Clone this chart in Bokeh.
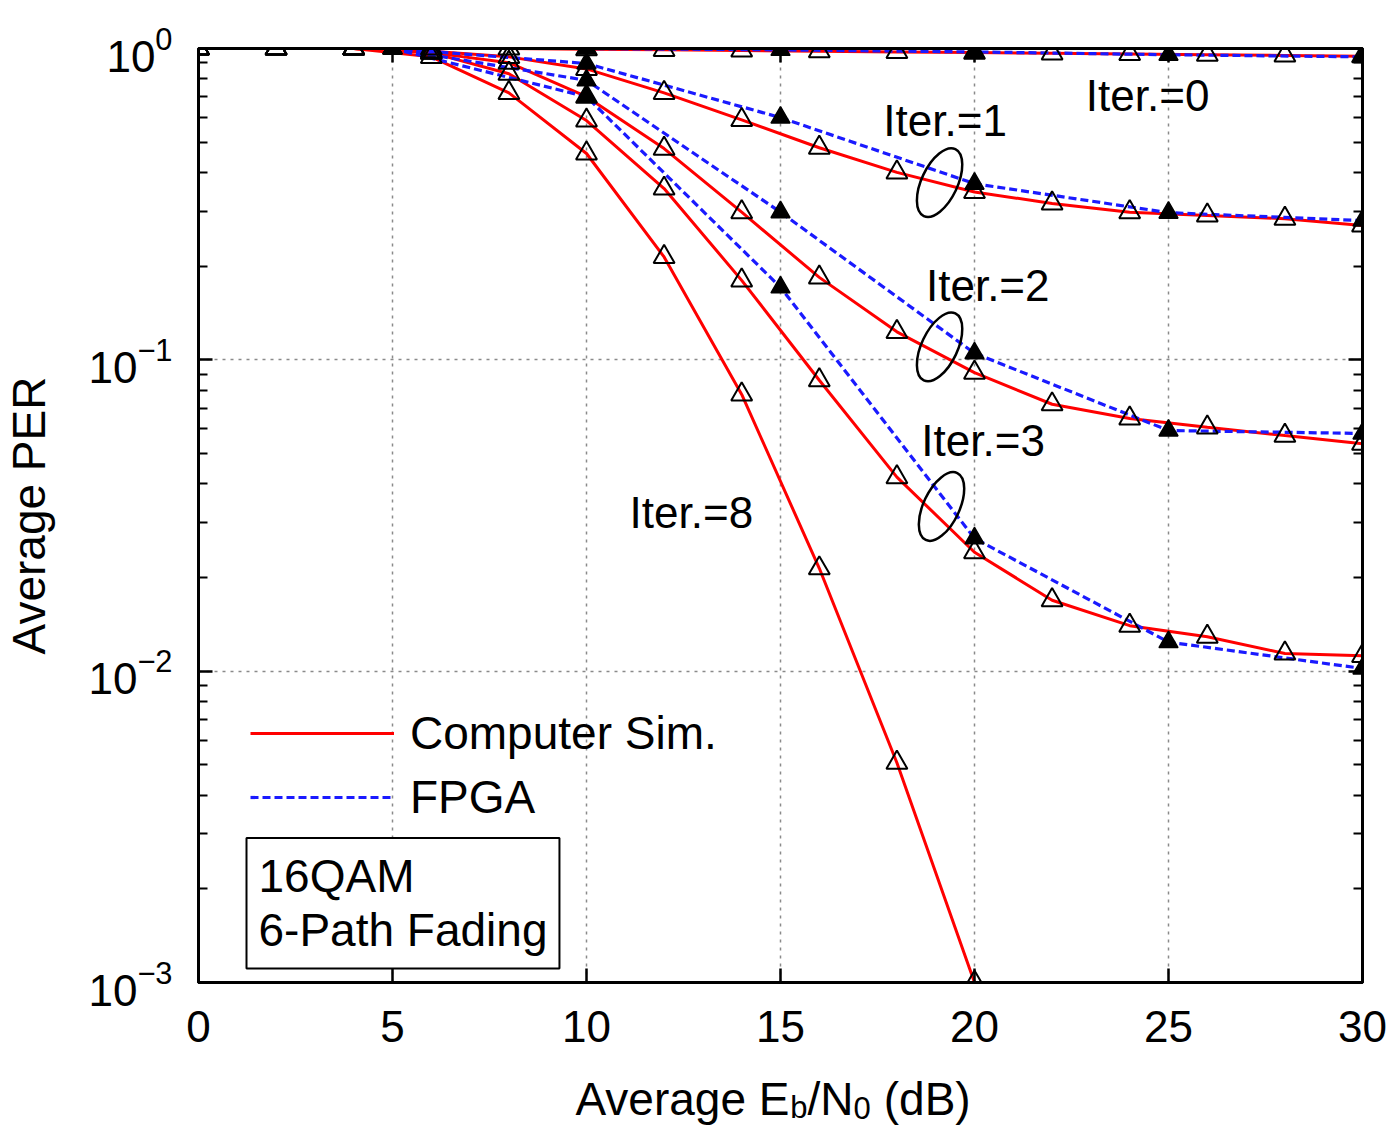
from bokeh.plotting import figure
from bokeh.layouts import column
from bokeh.models import (Legend, LegendItem, Label, LinearAxis, LogAxis,
                          FixedTicker, Range1d, LogTickFormatter, CustomJSTickFormatter)
from bokeh.embed import file_html
from bokeh.resources import INLINE
from bokeh.core.properties import value

FONT = "Liberation Sans"

# ---------------- data ----------------
x_sim = [0, 2, 4, 6, 8, 10, 12, 14, 16, 18, 20, 22, 24, 26, 28, 30]
iter0_sim = [1.0, 1.0, 1.0, 1.0, 1.0, 0.995, 0.99, 0.985, 0.98, 0.975, 0.97, 0.965, 0.96, 0.955, 0.95, 0.945]
iter1_sim = [1.0, 1.0, 1.0, 0.98, 0.94, 0.86, 0.72, 0.59, 0.48, 0.40, 0.346, 0.318, 0.298, 0.291, 0.284, 0.27]
iter2_sim = [1.0, 1.0, 1.0, 0.97, 0.90, 0.70, 0.477, 0.298, 0.184, 0.123, 0.091, 0.072, 0.0648, 0.0607, 0.0571, 0.0538]
iter3_sim = [1.0, 1.0, 1.0, 0.97, 0.83, 0.587, 0.355, 0.18, 0.086, 0.042, 0.0241, 0.0169, 0.014, 0.0129, 0.0114, 0.0112]
x_sim8 = [0, 2, 4, 6, 8, 10, 12, 14, 16, 18, 20]
iter8_sim = [1.0, 1.0, 1.0, 0.94, 0.72, 0.46, 0.214, 0.0774, 0.0214, 0.00508, 0.001]

x_fpga = [5, 10, 15, 20, 25, 30]
iter0_fpga = [1.0, 1.0, 0.99, 0.975, 0.955, 0.94]
iter1_fpga = [1.0, 0.895, 0.60, 0.368, 0.297, 0.28]
iter2_fpga = [1.0, 0.79, 0.298, 0.105, 0.0593, 0.058]
iter3_fpga = [1.0, 0.70, 0.171, 0.0267, 0.0124, 0.0102]

x_ticks = [0, 5, 10, 15, 20, 25, 30]
y_ticks = [0.001, 0.01, 0.1, 1]

note_text = ["Iter.=0", "Iter.=1", "Iter.=2", "Iter.=3", "Iter.=8"]
note_x = [22.87, 17.65, 18.75, 18.63, 11.11]
note_y = [0.706, 0.587, 0.173, 0.055, 0.0323]

ring_x = [19.1, 19.1, 19.15]
ring_y = [0.371, 0.110, 0.0338]

legend_labels = ["Computer Sim.", "FPGA"]
box_text = "16QAM\n6-Path Fading"
y_title = "Average PER"
# x title pieces: (text, font px, baseline shift, leading gap px) -> "Average E_b/N_0 (dB)"
x_title_pieces = [("Average E", 46, 0, 0), ("b", 31, -9, 0), ("/N", 46, 0, 0),
                  ("0", 31, -9, 0), ("(dB)", 46, 0, 13)]

# ---------------- main figure ----------------
p = figure(width=1397, height=1068, y_axis_type="log",
           x_range=Range1d(0, 30), y_range=Range1d(1e-3, 1),
           output_backend="svg", toolbar_location=None,
           min_border_left=196, min_border_right=35,
           min_border_top=48, min_border_bottom=86)
p.background_fill_color = "white"
p.border_fill_color = "white"
p.outline_line_color = "black"
p.outline_line_width = 3

minor = [m * 10.0 ** e for e in (-3, -2, -1) for m in range(2, 10)]
yt = FixedTicker(ticks=y_ticks, minor_ticks=minor)
xt = FixedTicker(ticks=x_ticks)

p.xaxis.ticker = xt
p.yaxis.ticker = yt
p.yaxis.formatter = LogTickFormatter()

for ax in (p.xaxis[0], p.yaxis[0]):
    ax.axis_line_width = 3
    ax.major_tick_in = 14
    ax.major_tick_out = 0
    ax.major_tick_line_width = 2.5
    ax.minor_tick_in = 9
    ax.minor_tick_out = 0
    ax.minor_tick_line_width = 2
    ax.major_label_text_font = FONT
    ax.major_label_text_font_size = "44px"
    ax.major_label_text_color = "black"

p.xaxis.major_label_standoff = 28
p.yaxis.major_label_standoff = 26
p.yaxis.axis_label = y_title
p.yaxis.axis_label_text_font = FONT
p.yaxis.axis_label_text_font_size = "46px"
p.yaxis.axis_label_text_font_style = "normal"
p.yaxis.axis_label_text_color = "black"
p.yaxis.axis_label_standoff = 30

top = LinearAxis(ticker=xt, formatter=CustomJSTickFormatter(code="return ''"),
                 major_label_standoff=0,
                 axis_line_width=3, major_tick_in=14, major_tick_out=0,
                 major_tick_line_width=2.5)
right = LogAxis(ticker=yt, formatter=CustomJSTickFormatter(code="return ''"),
                major_label_standoff=0,
                axis_line_width=3, major_tick_in=14, major_tick_out=0,
                major_tick_line_width=2.5, minor_tick_in=9, minor_tick_out=0,
                minor_tick_line_width=2)
p.add_layout(top, "above")
p.add_layout(right, "right")

for g in (p.xgrid[0], p.ygrid[0]):
    g.grid_line_color = "#8a8a8a"
    g.grid_line_dash = "3 5"
    g.grid_line_width = 1.5

# ---------------- lines ----------------
red = "#ff0000"
blue = "#1a1aff"
sims = [(x_sim, iter0_sim), (x_sim, iter1_sim), (x_sim, iter2_sim),
        (x_sim, iter3_sim), (x_sim8, iter8_sim)]
fpgas = [iter0_fpga, iter1_fpga, iter2_fpga, iter3_fpga]

sim_renderers = []
for xs, ys in sims:
    sim_renderers.append(p.line(xs, ys, line_color=red, line_width=3))
fpga_renderers = []
for ys in fpgas:
    fpga_renderers.append(p.line(x_fpga, ys, line_color=blue, line_width=3.2,
                                 line_dash="8 4"))

for xs, ys in sims:
    p.scatter(xs, ys, marker="triangle", size=21, line_color="black",
              line_width=2, fill_alpha=0)
for ys in fpgas:
    p.scatter(x_fpga, ys, marker="triangle", size=19, line_color="black",
              fill_color="black", line_width=1.5)

# ---------------- annotations ----------------
p.text(x=note_x, y=note_y, text=note_text, text_font=value(FONT),
       text_font_size="44px", text_baseline="middle", text_align="left",
       text_color="black")
p.ellipse(x=ring_x, y=ring_y, width=74, height=36, angle=1.13,
          width_units="screen", height_units="screen",
          fill_alpha=0, line_color="black", line_width=2.5)

legend = Legend(items=[LegendItem(label=legend_labels[0], renderers=[sim_renderers[0]]),
                       LegendItem(label=legend_labels[1], renderers=[fpga_renderers[0]])],
                location=(52, 158), glyph_width=144, glyph_height=54,
                label_height=54, spacing=10, padding=0, margin=0,
                label_standoff=16, label_text_font=FONT,
                label_text_font_size="46px", label_text_color="black",
                border_line_alpha=0, background_fill_alpha=0)
p.add_layout(legend)

box = Label(x=48, y=14, x_units="screen", y_units="screen", text=box_text,
            text_font=FONT, text_font_size="46px", text_color="black",
            text_line_height=1.05,
            border_line_color="black", border_line_width=2,
            background_fill_color="white", padding=12)
p.add_layout(box)

# ---------------- x-axis title strip ----------------
p2 = figure(width=1397, height=60, x_range=Range1d(0, 1), y_range=Range1d(0, 1),
            output_backend="svg", toolbar_location=None,
            x_axis_location=None, y_axis_location=None,
            min_border_left=196, min_border_right=35,
            min_border_top=0, min_border_bottom=0)
p2.outline_line_color = None
p2.background_fill_color = "white"
p2.border_fill_color = "white"
p2.xgrid.visible = False
p2.ygrid.visible = False

widths = {"A": 667, "v": 500, "e": 556, "r": 333, "a": 556, "g": 556, " ": 278,
          "E": 667, "b": 556, "/": 278, "N": 722, "0": 556, "(": 333, "d": 556,
          "B": 667, ")": 333}
cx = 377
for txt, fs, dy, gap in x_title_pieces:
    cx += gap
    p2.add_layout(Label(x=cx, y=30 + dy, x_units="screen", y_units="screen",
                        text=txt, text_font=FONT, text_font_size=f"{fs}px",
                        text_color="black", text_baseline="alphabetic"))
    cx += sum(widths[c] for c in txt) * fs / 1000.0

layout = column(p, p2, spacing=0)
open("out.html", "w").write(file_html(layout, INLINE))
